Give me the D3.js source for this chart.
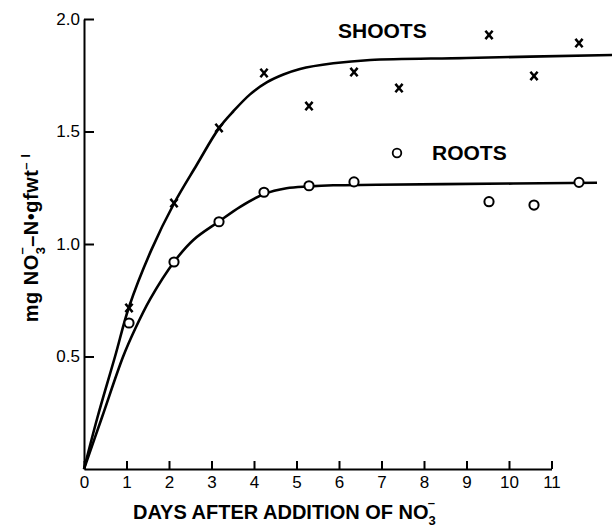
<!DOCTYPE html>
<html><head><meta charset="utf-8">
<script src="https://cdn.jsdelivr.net/npm/d3@7"></script>
<style>body{margin:0;background:#fff}svg{display:block}</style>
</head><body><svg id="c" width="612" height="531"></svg>
<script>
// ---- data ----
const xTickValues = [0,1,2,3,4,5,6,7,8,9,10,11];
const xTickLabels = ["0","1","2","3","4","5","6","7","8","9","10","11"];
const yTickValues = [0.5,1.0,1.5,2.0];
const yTickLabels = ["0.5","1.0","1.5","2.0"];

const shootDays   = [1,2,3,4,5,6,7,9,10,11];
const shootValues = [0.716,1.182,1.516,1.76,1.613,1.764,1.693,1.929,1.747,1.893];
const rootDays    = [1,2,3,4,5,6,9,10,11];
const rootValues  = [0.649,0.92,1.099,1.23,1.259,1.276,1.188,1.173,1.274];

// hand-drawn fitted curves
const shootCurveDays   = [0,0.3,0.69,1,1.5,2,2.5,3,3.32,3.69,4.06,4.43,4.8,5.54,6.36,8.5,11.76];
const shootCurveValues = [0,0.23,0.5,0.72,0.975,1.18,1.35,1.515,1.59,1.665,1.718,1.753,1.778,1.803,1.818,1.827,1.84];
const rootCurveDays    = [0,0.4,0.87,1.13,1.47,2,2.43,3,3.47,4,4.5,5,5.54,6.5,8,11.4];
const rootCurveValues  = [0,0.23,0.5,0.62,0.755,0.92,1.018,1.1,1.165,1.222,1.248,1.256,1.261,1.263,1.266,1.272];

// ---- layout ----
const svg = d3.select("#c");
const FONT = "'Liberation Sans', Arial, sans-serif";
const x0 = 84, y0 = 469;
const yScale = d3.scaleLinear().domain([0,2]).range([y0,19]);
const xAxisScale = d3.scaleLinear().domain([0,11]).range([x0,551.5]);
// plotted points/curves in the original are drawn on a slightly wider day spacing
const xData = d3.scaleLinear().domain([0,11]).range([x0,579]);

// y axis
const yAxis = d3.axisLeft(yScale).tickValues(yTickValues)
  .tickFormat((d,i)=>yTickLabels[i]).tickSizeInner(-10).tickSizeOuter(0).tickPadding(4);
const gy = svg.append("g").attr("transform",`translate(${x0},0)`).call(yAxis);
gy.select(".domain").attr("stroke","#000").attr("stroke-width",2);
gy.selectAll(".tick line").attr("stroke","#000").attr("stroke-width",2);
gy.selectAll(".tick text").attr("font-family",FONT).attr("font-size",17).attr("fill","#000");

// x axis
const xAxis = d3.axisBottom(xAxisScale).tickValues(xTickValues)
  .tickFormat((d,i)=>xTickLabels[i]).tickSizeInner(-8).tickSizeOuter(0).tickPadding(7);
const gx = svg.append("g").attr("transform",`translate(0,${y0})`).call(xAxis);
gx.select(".domain").attr("stroke","#000").attr("stroke-width",2);
gx.selectAll(".tick line").attr("stroke","#000").attr("stroke-width",2);
gx.selectAll(".tick text").attr("font-family",FONT).attr("font-size",17).attr("fill","#000");

// curves
const line = d3.line().x(d=>xData(d[0])).y(d=>yScale(d[1])).curve(d3.curveCatmullRom.alpha(0.5));
svg.append("path").datum(d3.zip(shootCurveDays,shootCurveValues)).attr("d",line)
  .attr("fill","none").attr("stroke","#000").attr("stroke-width",2.6);
svg.append("path").datum(d3.zip(rootCurveDays,rootCurveValues)).attr("d",line)
  .attr("fill","none").attr("stroke","#000").attr("stroke-width",2.6);

// markers
const xMark = "M-3.6,-4.2L3.6,4.2M3.6,-4.2L-3.6,4.2";
svg.append("g").selectAll("path").data(d3.zip(shootDays,shootValues)).join("path")
  .attr("transform",d=>`translate(${xData(d[0])},${yScale(d[1])})`)
  .attr("d",xMark).attr("stroke","#000").attr("stroke-width",2.5).attr("fill","none");
svg.append("g").selectAll("circle").data(d3.zip(rootDays,rootValues)).join("circle")
  .attr("cx",d=>xData(d[0])).attr("cy",d=>yScale(d[1])).attr("r",4.6)
  .attr("fill","#fff").attr("stroke","#000").attr("stroke-width",2);

// labels
svg.append("text").attr("x",338).attr("y",38).attr("font-family",FONT).attr("font-weight","bold")
  .attr("font-size",21).text("SHOOTS");
svg.append("circle").attr("cx",397).attr("cy",153).attr("r",4.3)
  .attr("fill","#fff").attr("stroke","#000").attr("stroke-width",1.8);
svg.append("text").attr("x",432).attr("y",160).attr("font-family",FONT).attr("font-weight","bold")
  .attr("font-size",21).text("ROOTS");

// x title
const xt = svg.append("text").attr("x",133).attr("y",519).attr("font-family",FONT)
  .attr("font-weight","bold").attr("font-size",20);
xt.append("tspan").text("DAYS AFTER ADDITION OF NO");
xt.append("tspan").attr("font-size",13).attr("dy",6).text("3");
xt.append("tspan").attr("font-size",13).attr("dx",-8).attr("dy",-18).text("\u2013");

// y title
const yt = svg.append("text").attr("transform","translate(38,238) rotate(-90)")
  .attr("text-anchor","middle").attr("font-family",FONT).attr("font-weight","bold")
  .attr("font-size",20).attr("letter-spacing",0.5);
yt.append("tspan").text("mg NO");
yt.append("tspan").attr("font-size",13).attr("dy",7).text("3");
yt.append("tspan").attr("font-size",13).attr("dx",-8).attr("dy",-19).text("\u2013");
yt.append("tspan").attr("dy",12).text("\u2013N\u2022gfwt");
yt.append("tspan").attr("font-size",13).attr("dy",-8).text("\u2013 l");
</script></body></html>
